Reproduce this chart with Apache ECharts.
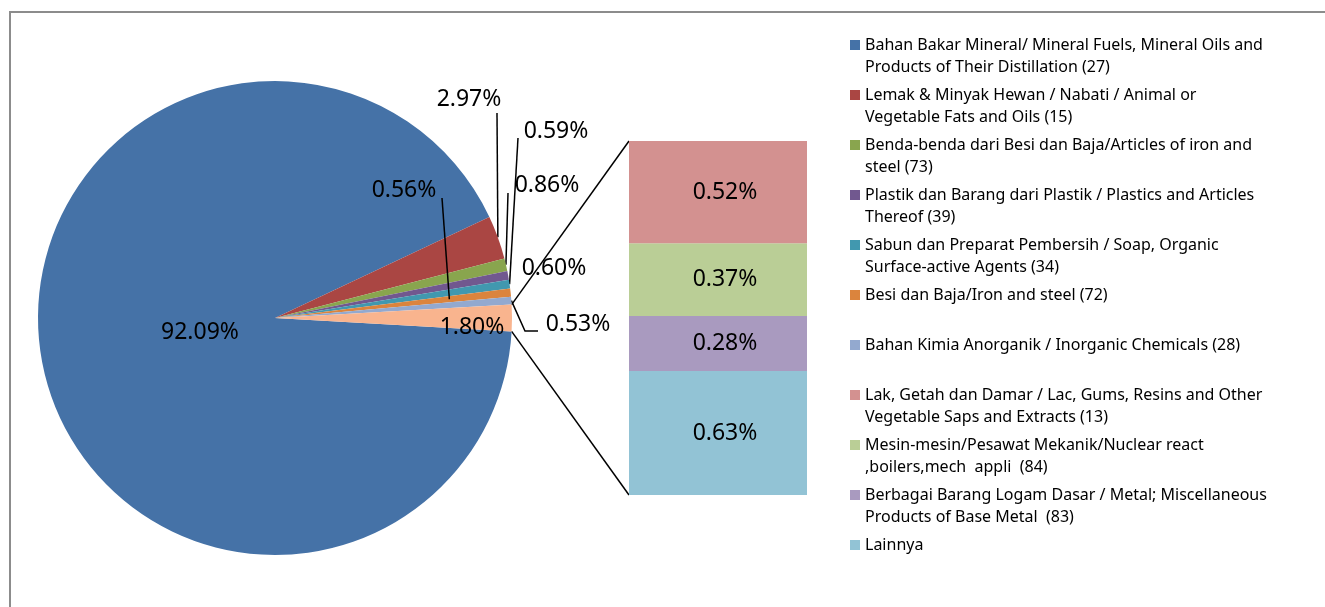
<!DOCTYPE html>
<html>
<head>
<meta charset="utf-8">
<title>Pie of bar</title>
<script src="https://cdn.jsdelivr.net/npm/echarts@6/dist/echarts.min.js"></script>
<style>
html, body { margin: 0; padding: 0; background: #fff; }
#chart { width: 1325px; height: 607px; }
</style>
</head>
<body>
<div id="chart"></div>
<script>
// main pie slices (%), clockwise
var pieNames = [
  "Bahan Bakar Mineral/ Mineral Fuels, Mineral Oils and\nProducts of Their Distillation (27)",
  "Lemak & Minyak Hewan / Nabati / Animal or\nVegetable Fats and Oils (15)",
  "Benda-benda dari Besi dan Baja/Articles of iron and\nsteel (73)",
  "Plastik dan Barang dari Plastik / Plastics and Articles\nThereof (39)",
  "Sabun dan Preparat Pembersih / Soap, Organic\nSurface-active Agents (34)",
  "Besi dan Baja/Iron and steel (72)",
  "Bahan Kimia Anorganik / Inorganic Chemicals (28)"
];
var pieValues = [92.09, 2.97, 0.86, 0.60, 0.59, 0.56, 0.53];
var pieColors = ["#4572A7", "#AA4643", "#89A54E", "#71588F", "#4198AF", "#DB843D", "#93A9CF"];
var otherName = "Lainnya (gabungan)";
var otherColor = "#F9B48E";

// the small slice broken out in the bar, top to bottom
var barNames = [
  "Lak, Getah dan Damar / Lac, Gums, Resins and Other\nVegetable Saps and Extracts (13)",
  "Mesin-mesin/Pesawat Mekanik/Nuclear react\n,boilers,mech  appli  (84)",
  "Berbagai Barang Logam Dasar / Metal; Miscellaneous\nProducts of Base Metal  (83)",
  "Lainnya"
];
var barValues = [0.52, 0.37, 0.28, 0.63];
var barColors = ["#D39190", "#BACE96", "#A99ABF", "#92C3D5"];

var FONT = "Noto Sans";
var CX = 275, CY = 318, R = 237;
var GRID_LEFT = 629, GRID_RIGHT = 518, GRID_TOP = 141, GRID_BOTTOM = 112;

// label places for the pie (label centre, then the leader line bends)
var pieLabelPos = [
  { x: 200, y: 332 },
  { x: 469, y: 99, line: [[497, 113]], r: 1 },
  { x: 547, y: 185, line: [[508, 193]], r: 1 },
  { x: 554, y: 268 },
  { x: 556, y: 131, line: [[518, 138]], r: 1 },
  { x: 404, y: 190, line: [[442, 198]], r: 0.74, overPie: true },
  { x: 578, y: 324, line: [[525, 331], [538, 331]], r: 1 },
  { x: 472, y: 327 }
];

var otherValue = 0;
barValues.forEach(function (v) { otherValue += v; });
otherValue = Math.round(otherValue * 100) / 100;

var allValues = pieValues.concat([otherValue]);
var total = 0;
allValues.forEach(function (v) { total += v; });
// the broken out slice sits centred on the right side
var startAngle = -(otherValue / total * 360) / 2;

function sliceMidPoint(i, rr) {
  var cum = 0;
  for (var k = 0; k < i; k++) cum += allValues[k];
  var a = (startAngle - (cum + allValues[i] / 2) / total * 360) * Math.PI / 180;
  return [CX + rr * Math.cos(a), CY - rr * Math.sin(a)];
}
function edgePoint(angleDeg) {
  var a = angleDeg * Math.PI / 180;
  return [CX + R * Math.cos(a), CY - R * Math.sin(a)];
}

var pieData = allValues.map(function (v, i) {
  var item = {
    value: v,
    name: i < pieNames.length ? pieNames[i] : otherName,
    itemStyle: { color: i < pieColors.length ? pieColors[i] : otherColor }
  };
  // lines that cross the big slice are drawn on top separately
  if (!pieLabelPos[i].line || pieLabelPos[i].overPie) item.labelLine = { show: false };
  return item;
});

var barSeries = [];
// stack from the bottom up
for (var i = barNames.length - 1; i >= 0; i--) {
  barSeries.push({
    name: barNames[i],
    type: "bar",
    stack: "other",
    xAxisIndex: 0,
    yAxisIndex: 0,
    barWidth: "100%",
    itemStyle: { color: barColors[i] },
    label: {
      show: true,
      position: "inside",
      offset: [7, 0],
      color: "#000",
      fontFamily: FONT,
      fontSize: 23,
      formatter: function (p) { return p.value.toFixed(2) + "%"; }
    },
    data: [barValues[i]]
  });
}

var option = {
  animation: false,
  backgroundColor: "#fff",
  legend: {
    orient: "vertical",
    left: 850,
    top: 12,
    padding: 0,
    itemGap: -16,
    itemWidth: 10,
    itemHeight: 10,
    icon: "rect",
    selectedMode: false,
    data: pieNames.concat(barNames),
    // empty first line keeps the marker level with the first text line
    formatter: function (name) {
      return "\n" + (name.indexOf("\n") < 0 ? name + "\n" : name);
    },
    textStyle: {
      fontFamily: FONT,
      fontSize: 16,
      color: "#000",
      lineHeight: 22
    }
  },
  grid: { left: GRID_LEFT, right: GRID_RIGHT, top: GRID_TOP, bottom: GRID_BOTTOM },
  xAxis: { type: "category", data: ["Lainnya"], show: false },
  yAxis: { type: "value", min: 0, max: otherValue, show: false },
  series: [{
    type: "pie",
    center: [CX, CY],
    radius: R,
    startAngle: startAngle,
    clockwise: true,
    avoidLabelOverlap: false,
    silent: true,
    itemStyle: { borderWidth: 0 },
    label: {
      show: true,
      position: "outside",
      color: "#000",
      fontFamily: FONT,
      fontSize: 23,
      formatter: function (p) { return p.value.toFixed(2) + "%"; }
    },
    labelLine: { show: true, showAbove: true, lineStyle: { color: "#000", width: 1.5 } },
    labelLayout: function (p) {
      var pos = pieLabelPos[p.dataIndex];
      var out = { x: pos.x, y: pos.y, align: "center", verticalAlign: "middle" };
      if (pos.line && !pos.overPie) {
        var pts = [sliceMidPoint(p.dataIndex, R * pos.r)].concat(pos.line);
        if (pts.length < 3) pts.push(pos.line[pos.line.length - 1]);
        out.labelLinePoints = pts;
      }
      return out;
    },
    data: pieData
  }].concat(barSeries)
};

var chart = echarts.init(document.getElementById("chart"));
chart.setOption(option);

// connectors from the broken out slice to the bar
var half = (otherValue / total * 360) / 2;
var pTop = edgePoint(half), pBot = edgePoint(-half);
var barTop = chart.convertToPixel({ gridIndex: 0 }, [0, otherValue])[1];
var barBot = chart.convertToPixel({ gridIndex: 0 }, [0, 0])[1];
var graphics = [
  {
    type: "rect", id: "frame", z: -1,
    shape: { x: 10, y: 12, width: 1400, height: 700 },
    style: { fill: "none", stroke: "#8c8c8c", lineWidth: 2 }
  },
  {
    type: "line", id: "connTop",
    shape: { x1: pTop[0], y1: pTop[1], x2: GRID_LEFT, y2: barTop },
    style: { stroke: "#000", lineWidth: 1.5 }
  },
  {
    type: "line", id: "connBot",
    shape: { x1: pBot[0], y1: pBot[1], x2: GRID_LEFT, y2: barBot },
    style: { stroke: "#000", lineWidth: 1.5 }
  }
];
pieLabelPos.forEach(function (pos, i) {
  if (!pos.overPie) return;
  var a = sliceMidPoint(i, R * pos.r);
  graphics.push({
    type: "polyline", id: "lead" + i, z: 10,
    shape: { points: [a].concat(pos.line) },
    style: { stroke: "#000", lineWidth: 1.5, fill: null }
  });
});
chart.setOption({ graphic: graphics });
</script>
</body>
</html>
